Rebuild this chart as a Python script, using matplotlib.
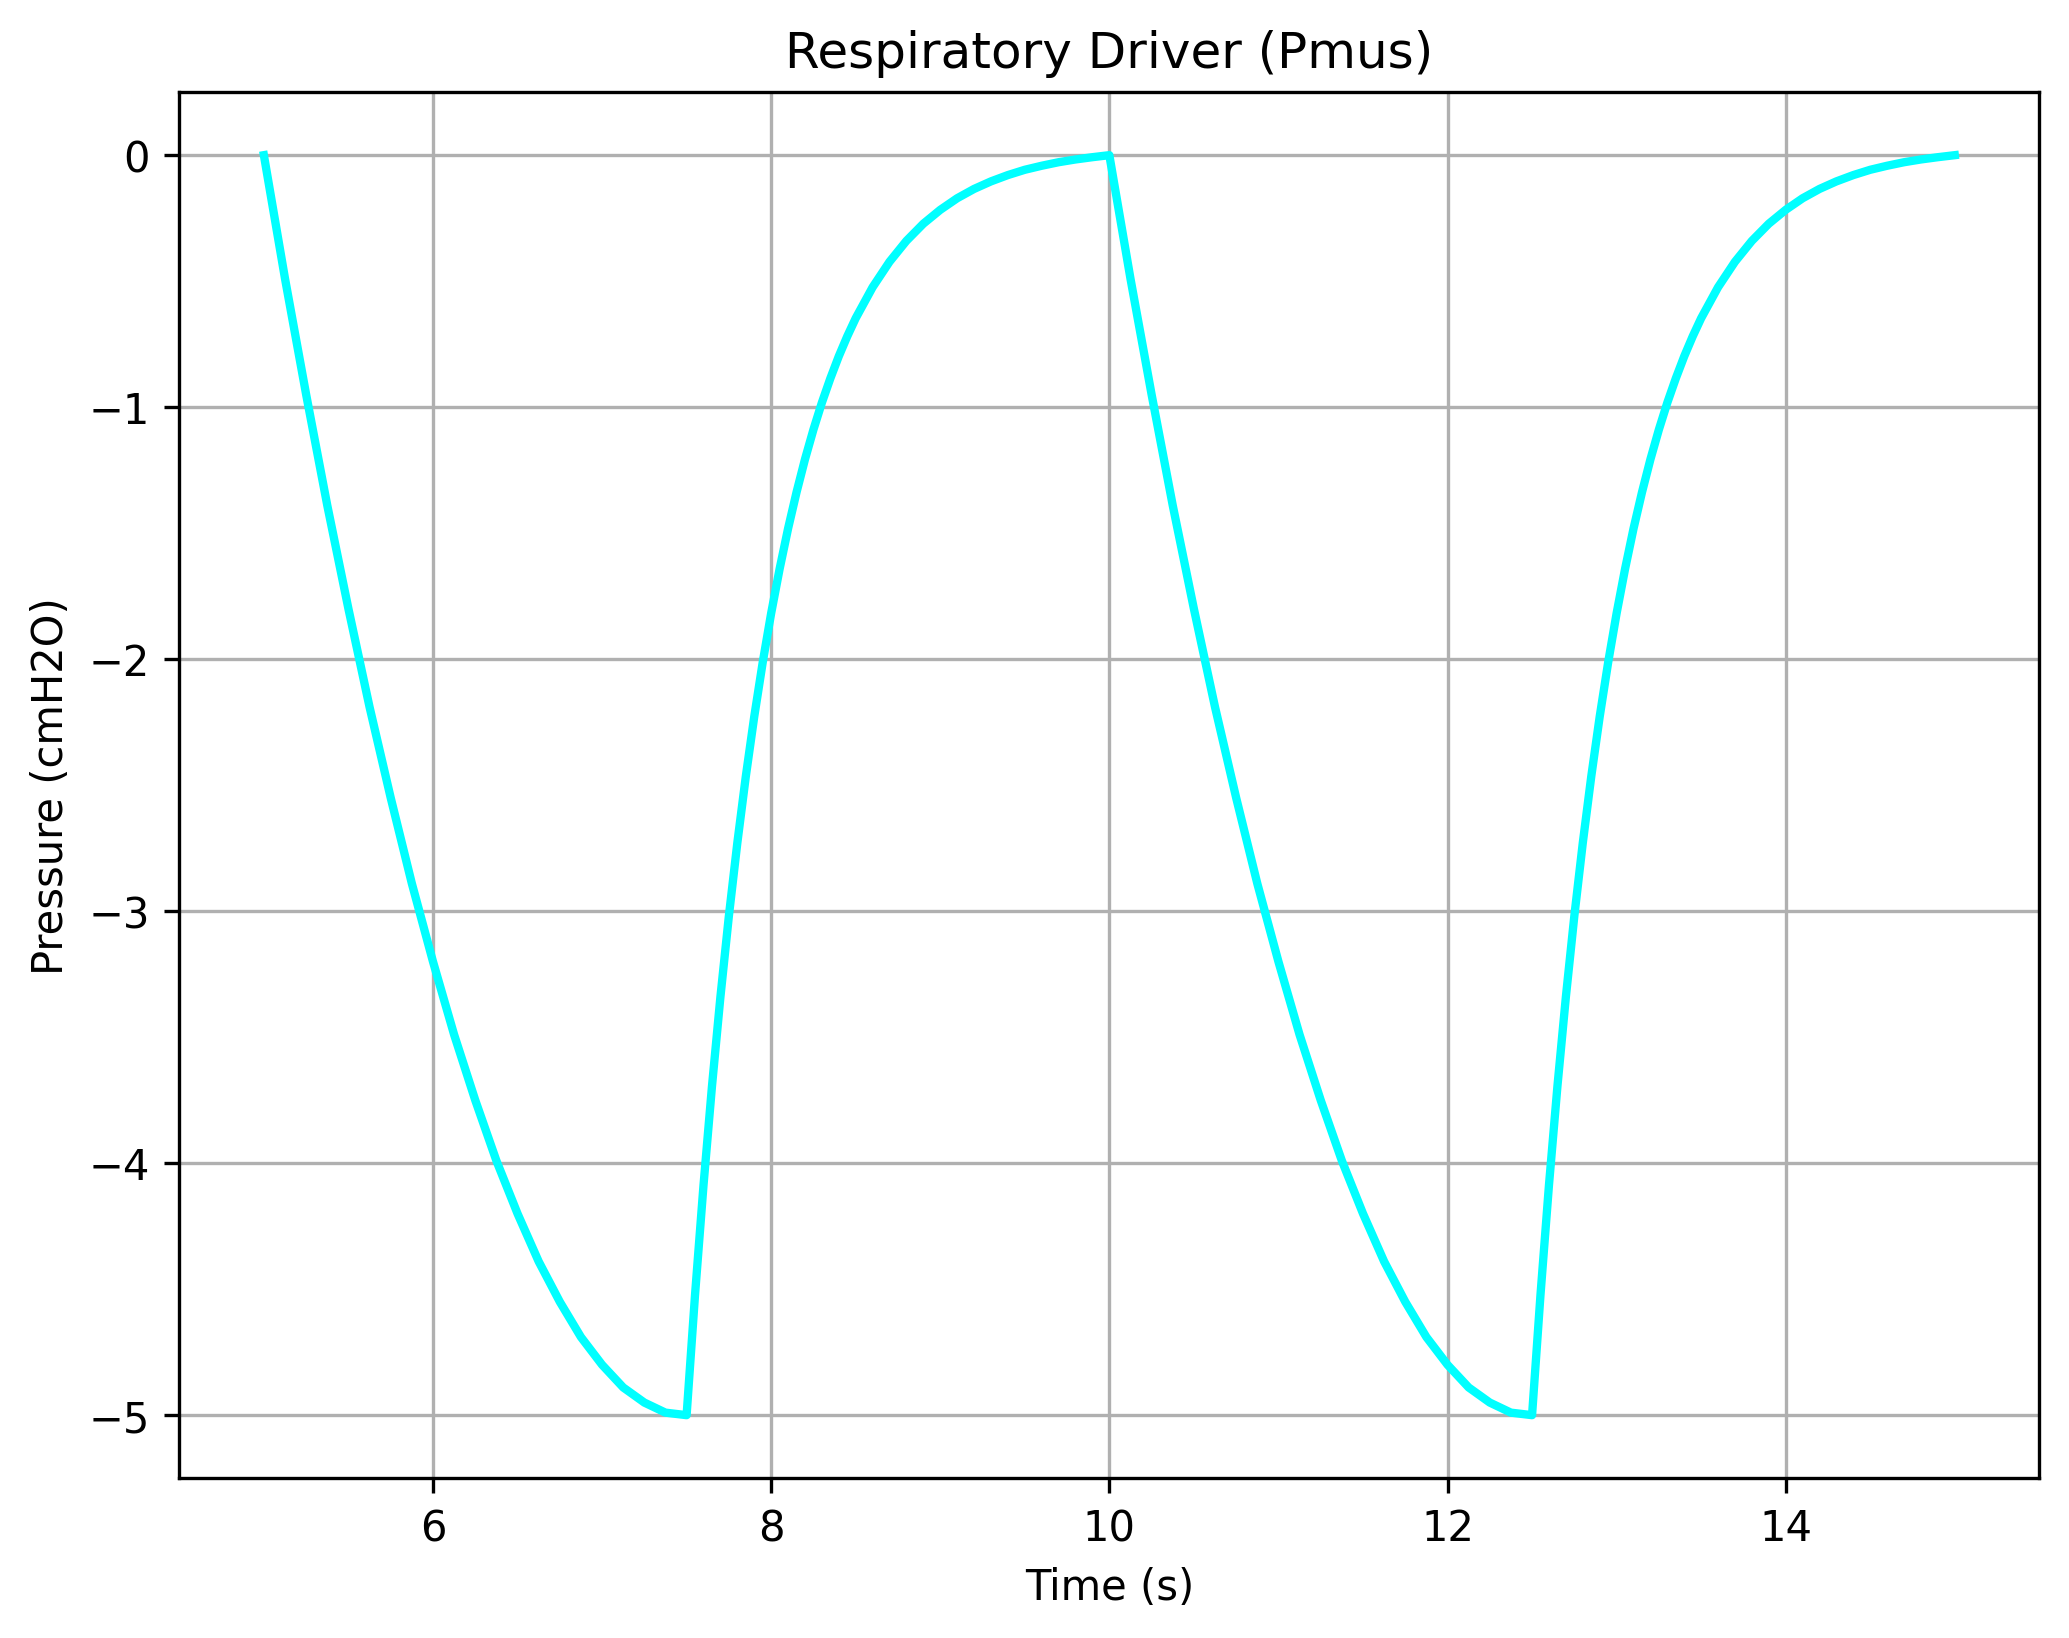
import numpy as np
import matplotlib; matplotlib.use("Agg"); import matplotlib.pyplot as plt

# one breathing cycle (5 s); times are offsets from cycle start
insp_t = [0.0, 0.125, 0.25, 0.375, 0.5, 0.625, 0.75, 0.875, 1.0, 1.125, 1.25,
          1.375, 1.5, 1.625, 1.75, 1.875, 2.0, 2.125, 2.25, 2.375, 2.5]
insp_p = [0.00, -0.49, -0.95, -1.39, -1.80, -2.19, -2.55, -2.89, -3.20, -3.49, -3.75,
          -3.99, -4.20, -4.39, -4.55, -4.69, -4.80, -4.89, -4.95, -4.99, -5.00]
exp_t = [2.5, 2.55, 2.6, 2.65, 2.7, 2.75, 2.8, 2.85, 2.9, 2.95, 3.0,
         3.05, 3.1, 3.15, 3.2, 3.25, 3.3, 3.35, 3.4, 3.45, 3.5,
         3.6, 3.7, 3.8, 3.9, 4.0, 4.1, 4.2, 4.3, 4.4, 4.5,
         4.6, 4.7, 4.8, 4.9, 5.0]
exp_p = [-5.000, -4.521, -4.087, -3.695, -3.340, -3.019, -2.729, -2.466, -2.228, -2.013, -1.818,
         -1.642, -1.482, -1.338, -1.207, -1.089, -0.982, -0.886, -0.798, -0.719, -0.647,
         -0.524, -0.423, -0.340, -0.272, -0.217, -0.171, -0.134, -0.104, -0.079, -0.058,
         -0.042, -0.028, -0.017, -0.008, 0.000]
cycle_start = [5.0, 10.0]

t_all, p_all = [], []
for t0 in cycle_start:
    t_all += [t0 + x for x in insp_t] + [t0 + x for x in exp_t[1:]]
    p_all += insp_p + exp_p[1:]

fig, ax = plt.subplots(figsize=(8, 6))
ax.plot(t_all, p_all, color="cyan", lw=2)
ax.set_title("Respiratory Driver (Pmus)")
ax.set_xlabel("Time (s)")
ax.set_ylabel("Pressure (cmH2O)")
ax.grid(True)
fig.savefig("out.png", dpi=300, bbox_inches="tight")
